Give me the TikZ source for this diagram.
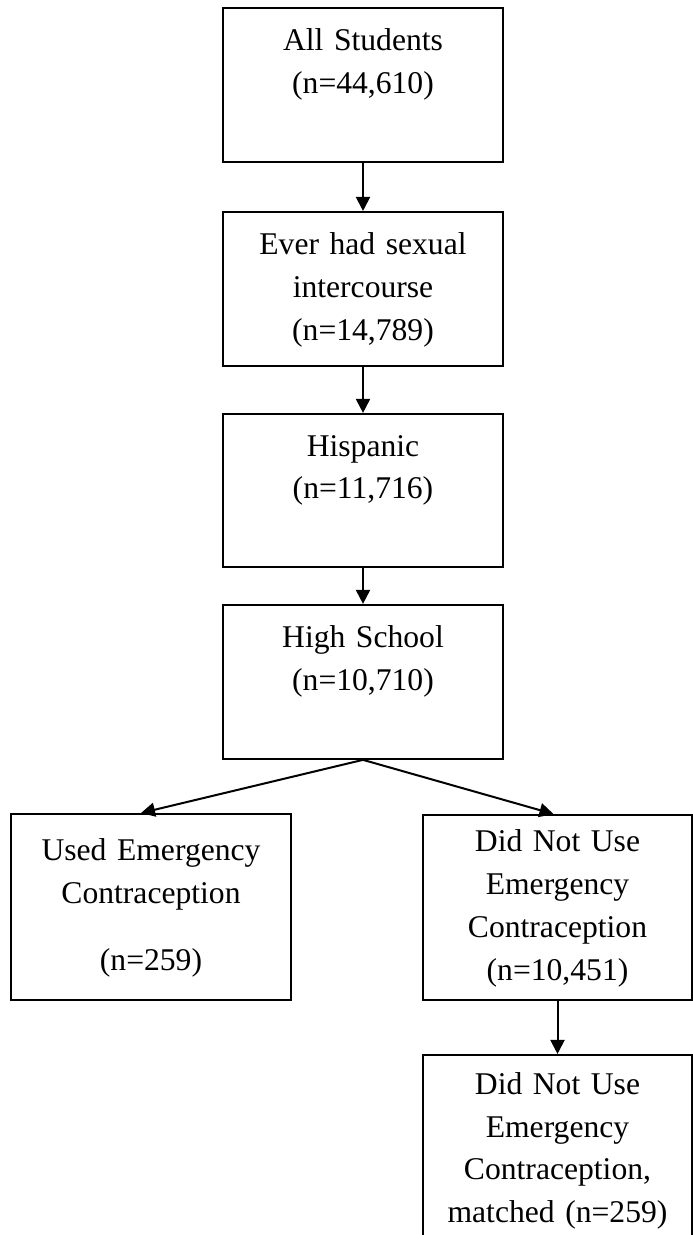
\documentclass[tikz,border=0pt]{standalone}
\usepackage{fontspec}
\setmainfont{Liberation Serif}
\usetikzlibrary{arrows.meta,positioning}

\begin{document}
\begin{tikzpicture}[x=0.02cm,y=-0.02cm,
    stage/.style={draw,line width=0.04cm,minimum width=5.6cm,text width=5.2cm,
      align=center,inner sep=0pt,anchor=north,font=\fontsize{18}{24.4}\selectfont},
    flow/.style={-{Triangle[width=0.28cm,length=0.28cm]},line width=0.04cm}]
  \clip (0,0) rectangle (693,1235);
  \node[stage,minimum height=3.08cm] (all) at (363,7) {\strut All Students\\(n=44,610)\\\strut};
  \node[stage,minimum height=3.08cm] (sex) [below=0.96cm of all] {\strut Ever had sexual\\intercourse\\(n=14,789)\strut};
  \node[stage,minimum height=3.06cm] (hisp) [below=0.92cm of sex] {\strut Hispanic\\(n=11,716)\\\strut};
  \node[stage,minimum height=3.08cm] (high) [below=0.72cm of hisp] {\strut High School\\(n=10,710)\\\strut};
  \node[stage,minimum height=3.72cm] (used) at (151,813) {\strut Used Emergency\\Contraception\\[0.5cm](n=259)\strut};
  \node[stage,minimum width=5.4cm,minimum height=3.7cm] (notused) at (557.5,814) {\strut Did Not Use\\Emergency\\Contraception\\(n=10,451)\strut};
  \node[stage,minimum width=5.4cm,minimum height=3.8cm] (matched) [below=1.06cm of notused] {\strut Did Not Use\\Emergency\\Contraception,\\matched (n=259)\strut};
  \path[flow]
    (all) edge (sex)
    (sex) edge (hisp)
    (hisp) edge (high)
    (high.south) edge ([xshift=-0.2cm]used.north)
    (high.south) edge ([xshift=-0.08cm]notused.north)
    (notused) edge (matched);
\end{tikzpicture}
\end{document}
